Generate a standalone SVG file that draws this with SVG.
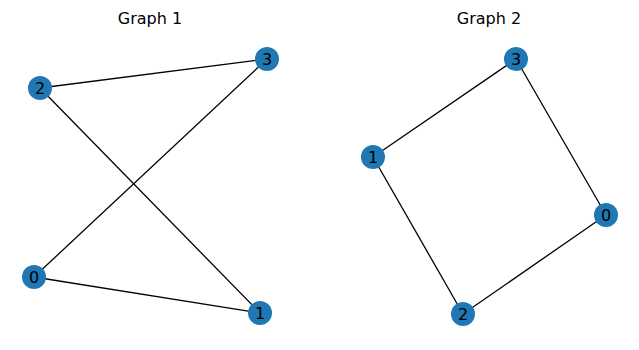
<svg xmlns="http://www.w3.org/2000/svg" width="639" height="350" viewBox="0 0 639 350">
<style>
.t{font-family:"DejaVu Sans",sans-serif;font-size:16px;fill:#000;text-anchor:middle}
.n circle{fill:#1f78b4}
.n text{font-family:"DejaVu Sans",sans-serif;font-size:16px;fill:#000;text-anchor:middle;dominant-baseline:central}
.e line{stroke:#000;stroke-width:1.3}
</style>
<rect width="639" height="350" fill="#fff"/>
<text class="t" x="150" y="24">Graph 1</text>
<text class="t" x="489" y="24">Graph 2</text>
<g id="edges" class="e">
<line x1="40" y1="88" x2="267" y2="59"/>
<line x1="40" y1="88" x2="260" y2="313"/>
<line x1="34" y1="277" x2="267" y2="59"/>
<line x1="34" y1="277" x2="260" y2="313"/>
<line x1="516" y1="59" x2="373" y2="157"/>
<line x1="516" y1="59" x2="606" y2="215"/>
<line x1="373" y1="157" x2="463" y2="314"/>
<line x1="463" y1="314" x2="606" y2="215"/>
</g>
<g id="g1n2" class="n"><circle cx="40" cy="88" r="12"/><text x="40" y="88">2</text></g>
<g id="g1n3" class="n"><circle cx="267" cy="59" r="12"/><text x="267" y="59">3</text></g>
<g id="g1n0" class="n"><circle cx="34" cy="277" r="12"/><text x="34" y="277">0</text></g>
<g id="g1n1" class="n"><circle cx="260" cy="313" r="12"/><text x="260" y="313">1</text></g>
<g id="g2n3" class="n"><circle cx="516" cy="59" r="12"/><text x="516" y="59">3</text></g>
<g id="g2n1" class="n"><circle cx="373" cy="157" r="12"/><text x="373" y="157">1</text></g>
<g id="g2n0" class="n"><circle cx="606" cy="215" r="12"/><text x="606" y="215">0</text></g>
<g id="g2n2" class="n"><circle cx="463" cy="314" r="12"/><text x="463" y="314">2</text></g>
</svg>
